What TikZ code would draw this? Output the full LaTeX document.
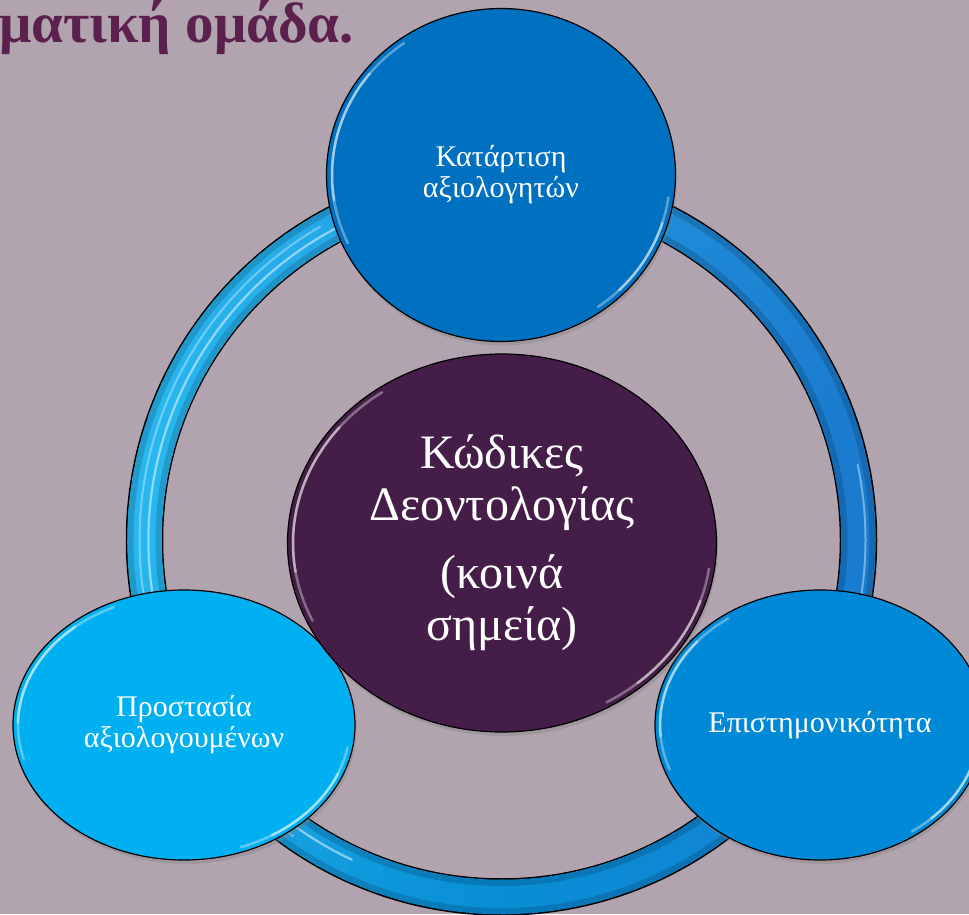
\documentclass[tikz,border=0pt]{standalone}
\usepackage{fontspec}
\setmainfont{Liberation Serif}
\usetikzlibrary{shapes.geometric,shadows}
\definecolor{bgc}{RGB}{178,164,175}
\definecolor{titlec}{RGB}{92,32,78}
\definecolor{ringR}{RGB}{27,123,207}
\definecolor{ringL}{RGB}{40,184,240}
\definecolor{ringB}{RGB}{8,142,214}
\definecolor{topc}{RGB}{0,112,192}
\definecolor{leftc}{RGB}{0,176,240}
\definecolor{rightc}{RGB}{0,137,214}
\definecolor{midc}{RGB}{68,30,72}
\newcommand\glossarc[5]{%
  \draw[white, line width=2.5pt, opacity=.35, line cap=round] (#1.center) ++(#4:#2 and #3) arc[start angle=#4, end angle=#5, x radius=#2, y radius=#3];
  \pgfmathsetmacro\gsa{#4+(#5-#4)*0.2}\pgfmathsetmacro\gea{#4+(#5-#4)*0.8}
  \draw[white, line width=2.5pt, opacity=.45, line cap=round] (#1.center) ++(\gsa:#2 and #3) arc[start angle=\gsa, end angle=\gea, x radius=#2, y radius=#3];}
\tikzset{
  blob/.style={ellipse, draw=black, line width=1.2pt, inner sep=0pt, text=white, align=center,
    drop shadow={shadow xshift=1.5pt, shadow yshift=-4pt, opacity=.35}},
  smalltext/.style={font=\fontsize{30}{31}\selectfont},
}
\begin{document}
\begin{tikzpicture}[x=1pt,y=1pt]
\useasboundingbox (0,0) rectangle (969,914);
\clip (0,0) rectangle (969,914);
\fill[bgc] (0,0) rectangle (969,914);
% title
\node[anchor=base west, inner sep=0pt, font=\bfseries\fontsize{57}{60}\selectfont, text=titlec] (title) at (-1,871) {ματική ομάδα.};
% ring
\coordinate (ring) at (501.5,374);
\draw[black, line width=37.5pt] (ring) circle[radius=357];
\foreach \a in {0,5,...,355}{
  \pgfmathsetmacro\md{\a+2.5}
  \ifdim \a pt<180pt
    \pgfmathtruncatemacro\p{50*(1-cos(\md))}\colorlet{segc}{ringL!\p!ringR}
  \else\ifdim \a pt<270pt
    \pgfmathtruncatemacro\p{100*(270-\md)/90}\colorlet{segc}{ringL!\p!ringB}
  \else
    \pgfmathtruncatemacro\p{100*(360-\md)/90}\colorlet{segc}{ringB!\p!ringR}
  \fi\fi
  \draw[segc, line width=34.5pt] (ring) ++(\a:357) arc[start angle=\a, end angle=\a+5.6, radius=357];
}
\draw[black, opacity=.15, line width=6pt] (ring) circle[radius=343];
\draw[black, opacity=.15, line width=6pt] (ring) circle[radius=371];
\draw[white, opacity=.5, line width=2.2pt] (ring) ++(110:353) arc[start angle=110, end angle=245, radius=353];
\draw[white, opacity=.35, line width=2pt] (ring) ++(120:362) arc[start angle=120, end angle=235, radius=362];
\draw[white, opacity=.4, line width=2pt] (ring) ++(-35:364) arc[start angle=-35, end angle=12, radius=364];
% ellipses
\node[blob, fill=topc, minimum width=349, minimum height=333, smalltext] (top) at (501,739) {Κατάρτιση\\αξιολογητών};
\node[blob, fill=leftc, minimum width=342, minimum height=270, smalltext] (left) at (184,189) {Προστασία\\αξιολογουμένων};
\node[blob, fill=rightc, minimum width=330, minimum height=270, smalltext] (right) at (820,189) {Επιστημονικότητα};
\node[blob, fill=midc, minimum width=429, minimum height=378, font=\fontsize{48}{52}\selectfont] (mid) at (502,371) {Κώδικες\\Δεοντολογίας\\[16pt](κοινά\\σημεία)};
% gloss
\glossarc{top}{169}{161}{125}{205}
\glossarc{top}{169}{161}{-55}{-8}
\glossarc{left}{166}{130}{115}{195}
\glossarc{left}{166}{130}{-70}{-10}
\glossarc{right}{160}{130}{125}{200}
\glossarc{right}{160}{130}{-55}{-10}
\glossarc{mid}{209}{184}{125}{205}
\glossarc{mid}{209}{184}{-60}{-8}
\end{tikzpicture}
\end{document}
